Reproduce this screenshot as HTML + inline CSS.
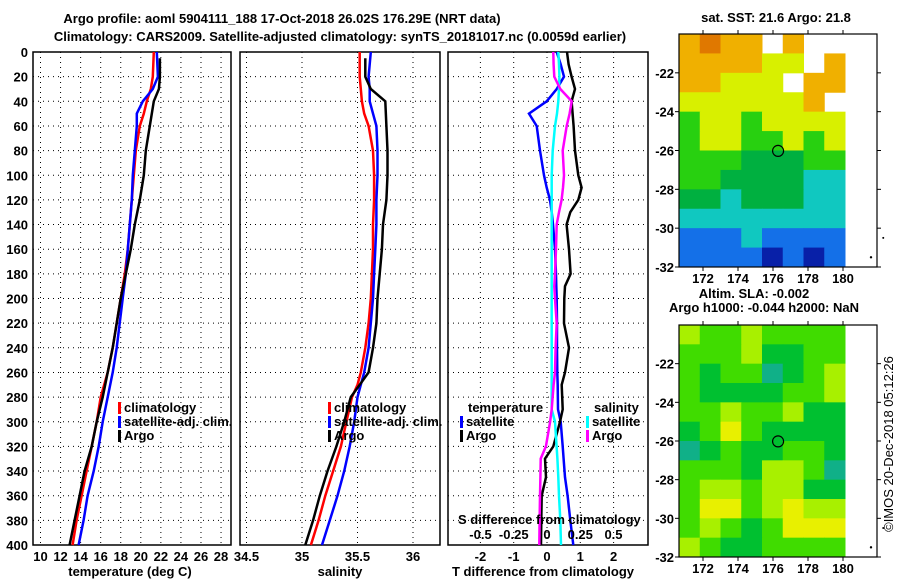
<!DOCTYPE html>
<html><head><meta charset="utf-8">
<style>
body{margin:0;background:#fff;}
svg{display:block;font-family:"Liberation Sans",sans-serif;font-weight:bold;}
text{font-size:13px;fill:#000;}
</style></head>
<body>
<svg id="chart" width="900" height="580" viewBox="0 0 900 580" xmlns="http://www.w3.org/2000/svg">
<text x="282" y="23" text-anchor="middle" font-size="14">Argo profile: aoml 5904111_188 17-Oct-2018 26.02S 176.29E (NRT data)</text>
<text x="340" y="41" text-anchor="middle" font-size="14">Climatology: CARS2009. Satellite-adjusted climatology: synTS_20181017.nc (0.0059d earlier)</text>
<g id="g"></g>
<text x="776" y="22" text-anchor="middle" font-size="12">sat. SST: 21.6 Argo: 21.8</text>
<text x="754" y="298" text-anchor="middle" font-size="12">Altim. SLA: -0.002</text>
<text x="764" y="312" text-anchor="middle" font-size="12">Argo h1000: -0.044 h2000: NaN</text>
<text transform="translate(893,444) rotate(-90)" text-anchor="middle" font-size="12" font-weight="normal">©IMOS 20-Dec-2018 05:12:26</text>
</svg>
<script>
// ---- data ----
const depthTicks=[0,20,40,60,80,100,120,140,160,180,200,220,240,260,280,300,320,340,360,380,400];
const tTicks=[10,12,14,16,18,20,22,24,26,28];
const sTicks=[34.5,35,35.5,36];
const dTicks=[-2,-1,0,1,2];
const sdTicks=[-0.5,-0.25,0,0.25,0.5];
const sdTickLabels=["-0.5","-0.25","0","0.25","0.5"];
const tArgoDepth=[5,20,30,40,60,80,100,120,140,160,180,200,220,240,260,280,300,320,340,360,380,400];
const tArgo=[21.9,21.9,21.8,21.3,20.9,20.5,20.3,19.9,19.4,19.0,18.5,18.0,17.6,17.2,16.7,16.2,15.6,15.1,14.4,13.9,13.4,12.9];
const tClimDepth=[0,20,30,40,50,60,80,100,120,140,160,180,200,220,240,260,280,300,320,340,360,380,400];
const tClim=[21.3,21.2,21.0,20.6,20.3,19.9,19.5,19.3,19.1,18.9,18.7,18.4,18.0,17.6,17.2,16.7,16.0,15.6,15.1,14.6,14.1,13.6,13.2];
const tSat=[21.6,21.7,21.2,20.2,19.6,19.6,19.4,19.2,19.1,18.9,18.7,18.5,18.2,17.9,17.6,17.2,16.7,16.2,15.8,15.3,14.7,14.3,13.8];
const sArgo=[35.57,35.57,35.62,35.75,35.76,35.77,35.77,35.76,35.73,35.72,35.70,35.68,35.67,35.64,35.60,35.52,35.44,35.38,35.31,35.23,35.16,35.10,35.03];
const sArgoDepth=[5,20,30,40,60,80,100,120,140,160,180,200,220,240,260,270,280,300,320,340,360,380,400];
const sClim=[35.52,35.52,35.53,35.54,35.56,35.60,35.64,35.65,35.65,35.64,35.64,35.63,35.62,35.60,35.57,35.53,35.50,35.45,35.40,35.35,35.28,35.21,35.15,35.08];
const sClimDepth=[0,20,30,40,50,60,80,100,120,140,160,180,200,220,240,260,270,280,300,320,340,360,380,400];
const sSat=[35.62,35.60,35.61,35.61,35.64,35.67,35.68,35.68,35.67,35.67,35.66,35.65,35.64,35.62,35.60,35.56,35.53,35.50,35.47,35.43,35.38,35.32,35.25,35.18];
const dDepth=[0,10,20,30,40,50,60,80,100,110,120,130,140,160,180,190,200,220,240,260,270,290,300,320,330,345,360,380,400];
const dTArgo=[0.6,0.65,0.74,0.84,0.74,0.77,0.8,0.84,0.94,1.04,0.94,0.7,0.59,0.66,0.71,0.54,0.52,0.51,0.66,0.54,0.44,0.47,0.39,0.19,-0.06,-0.03,-0.16,-0.17,-0.18];
const dTSat=[0.29,0.41,0.51,0.29,-0.01,-0.54,-0.31,-0.21,-0.09,-0.01,0.09,0.14,0.18,0.24,0.27,0.28,0.29,0.3,0.3,0.31,0.32,0.33,0.41,0.47,0.5,0.54,0.62,0.7,0.79];
const dSSat=[0.085,0.09,0.093,0.09,0.085,0.075,0.06,0.043,0.035,0.035,0.035,0.035,0.035,0.035,0.035,0.035,0.035,0.035,0.035,0.035,0.035,0.035,0.06,0.072,0.078,0.085,0.09,0.1,0.105];
const dSArgo=[0.047,0.05,0.055,0.1,0.186,0.17,0.148,0.118,0.128,0.12,0.11,0.09,0.073,0.068,0.06,0.055,0.06,0.073,0.065,0.06,0.05,0.035,0.023,-0.008,-0.047,-0.05,-0.053,-0.056,-0.058];
const sstGrid=[[5,6,5,5,null,5,null,null],[5,5,5,5,4,4,null,5],[5,5,4,4,4,null,5,5],[4,4,4,4,4,4,5,null],[3,4,4,3,4,4,4,4],[3,4,4,3,3,4,3,4],[3,3,3,2,2,2,3,3],[3,3,2,2,2,2,1,1],[2,2,1,2,2,2,1,1],[1,1,1,1,1,1,1,1],[0,0,0,1,0,0,0,0],[0,0,0,0,-1,0,-1,0]];
const slaGrid=[[3,2,2,3,2,2,2,2],[2,2,2,3,1,1,2,2],[2,1,2,2,0,1,2,3],[2,1,1,1,1,2,2,3],[2,2,3,2,2,3,1,1],[1,2,4,2,1,1,1,1],[0,1,2,1,1,2,2,1],[2,2,2,1,3,3,2,0],[2,3,3,2,3,3,1,1],[2,4,4,2,3,4,3,3],[2,3,2,1,2,4,4,4],[3,2,1,1,2,2,2,2]];
const lonTicks=[172,174,176,178,180];
const latTicks=[-22,-24,-26,-28,-30,-32];
const argoLon=176.29, argoLat=-26.02;

const NS="http://www.w3.org/2000/svg";
const g=document.getElementById('g');
function el(tag,a,txt){const e=document.createElementNS(NS,tag);for(const k in a)e.setAttribute(k,a[k]);if(txt!==undefined)e.textContent=txt;g.appendChild(e);return e;}
const top0=52,bot0=545;
const yD=d=>top0+(d/400)*(bot0-top0);
const panels=[
 {x0:33,x1:231,sx:v=>40.5+(v-10)*10.03,ticks:tTicks,labels:tTicks.map(String),title:"temperature (deg C)",tx:130,name:"temperature"},
 {x0:240,x1:440,sx:v=>302+(v-35)*111,ticks:sTicks,labels:["34.5","35","35.5","36"],title:"salinity",tx:340,name:"salinity"},
 {x0:448,x1:648,sx:v=>547+v*33.3,ticks:dTicks,labels:dTicks.map(String),title:"T difference from climatology",tx:543,name:"difference"}
];
const sxS=v=>547+v*133;
panels.forEach((p,i)=>{
  let r=el('rect',{x:p.x0,y:top0,width:p.x1-p.x0,height:bot0-top0,fill:'none',stroke:'#000','stroke-width':1.5});
  
  
  depthTicks.forEach(d=>{
    let l=el('line',{x1:p.x0,x2:p.x1,y1:yD(d),y2:yD(d),stroke:'#000','stroke-dasharray':'1 4','stroke-width':1});
    
    
  });
  p.ticks.forEach((v,k)=>{
    let x=p.sx(v);
    let l=el('line',{x1:x,x2:x,y1:top0,y2:bot0,stroke:'#000','stroke-dasharray':'1 4','stroke-width':1});
    
    
    let t=el('text',{x:x,y:561,'text-anchor':'middle'},p.labels[k]);
    
    
  });
  let t=el('text',{x:p.tx,y:576,'text-anchor':'middle'},p.title);
  
  
});
depthTicks.forEach(d=>{
  let t=el('text',{x:28,y:yD(d)+5,'text-anchor':'end'},String(d));
  
  
});
function line(xs,ds,fx,color,name){
  const pts=xs.map((v,i)=>fx(v).toFixed(1)+','+yD(ds[i]).toFixed(1)).join(' ');
  const e=el('polyline',{points:pts,fill:'none',stroke:color,'stroke-width':2.5});
  
  
}
const P=panels;
line(tClim,tClimDepth,P[0].sx,'#f00','temp-climatology-line');
line(tSat,tClimDepth,P[0].sx,'#00f','temp-satellite-line');
line(tArgo,tArgoDepth,P[0].sx,'#000','temp-argo-line');
line(sClim,sClimDepth,P[1].sx,'#f00','sal-climatology-line');
line(sSat,sClimDepth,P[1].sx,'#00f','sal-satellite-line');
line(sArgo,sArgoDepth,P[1].sx,'#000','sal-argo-line');
line(dTSat,dDepth,P[2].sx,'#00f','tdiff-satellite-line');
line(dTArgo,dDepth,P[2].sx,'#000','tdiff-argo-line');
line(dSSat,dDepth,sxS,'#0ff','sdiff-satellite-line');
line(dSArgo,dDepth,sxS,'#f0f','sdiff-argo-line');
function leg(x,y,color,txt){
  let m=el('rect',{x:x,y:y-10,width:3,height:12,fill:color});
  
  
  let t=el('text',{x:x+6,y:y},txt);
  
  
}
leg(118,412,'#f00','climatology');leg(118,426,'#00f','satellite-adj. clim.');leg(118,440,'#000','Argo');
leg(328,412,'#f00','climatology');leg(328,426,'#00f','satellite-adj. clim.');leg(328,440,'#000','Argo');
let tt=el('text',{x:468,y:412},'temperature');
leg(460,426,'#00f','satellite');leg(460,440,'#000','Argo');
let st=el('text',{x:594,y:412},'salinity');
leg(586,426,'#0ff','satellite');leg(586,440,'#f0f','Argo');
let sdt=el('text',{x:458,y:524},'S difference from climatology');
sdTicks.forEach((v,k)=>{let t=el('text',{x:sxS(v),y:539,'text-anchor':'middle'},sdTickLabels[k]);});

// maps
const sstCol={"-1":"#0820a8","0":"#1470e8","1":"#10c8c0","2":"#00b040","3":"#28d010","4":"#d8f000","5":"#f0b000","6":"#e07800"};
const slaCol={"0":"#10b088","1":"#00c030","2":"#40dc00","3":"#a8f000","4":"#e8f000"};
function map(top,bottom,grid,cols,name){
  const L=679,R=877,lonX=l=>703+(l-172)*17.5;
  const latY=la=>top+(-20-la)/12*(bottom-top);
  const nR=grid.length,nC=grid[0].length,cw=(845-L)/nC,ch=(bottom-top)/nR;
  grid.forEach((row,r)=>row.forEach((v,c)=>{
    if(v===null)return;
    const e=el('rect',{x:L+c*cw,y:top+r*ch,width:cw+0.5,height:ch+0.5,fill:cols[String(v)]});
    
    
  }));
  let f=el('rect',{x:L,y:top,width:R-L,height:bottom-top,fill:'none',stroke:'#000','stroke-width':1.2});
  
  
  lonTicks.forEach(l=>{
    const x=lonX(l);
    el('line',{x1:x,x2:x,y1:bottom,y2:bottom+4,stroke:'#000'});
    el('line',{x1:x,x2:x,y1:top,y2:top-4,stroke:'#000'});
    let t=el('text',{x:x,y:bottom+16,'text-anchor':'middle'},String(l));
    
    
  });
  latTicks.forEach(la=>{
    const y=latY(la);
    el('line',{x1:L,x2:L-4,y1:y,y2:y,stroke:'#000'});
    el('line',{x1:R,x2:R+4,y1:y,y2:y,stroke:'#000'});
    let t=el('text',{x:674,y:y+5,'text-anchor':'end'},String(la));
    
    
  });
  let c=el('circle',{cx:lonX(argoLon),cy:latY(argoLat),r:5.5,fill:'none',stroke:'#000','stroke-width':1.2});
  
  
  el('circle',{cx:lonX(181.6),cy:latY(-31.5),r:1.2,fill:'#000'});
  el('circle',{cx:lonX(182.3),cy:latY(-30.5),r:1,fill:'#000'});
}
map(34,267,sstGrid,sstCol,'sst-map');
map(325,557,slaGrid,slaCol,'sla-map');
</script>
</body></html>
